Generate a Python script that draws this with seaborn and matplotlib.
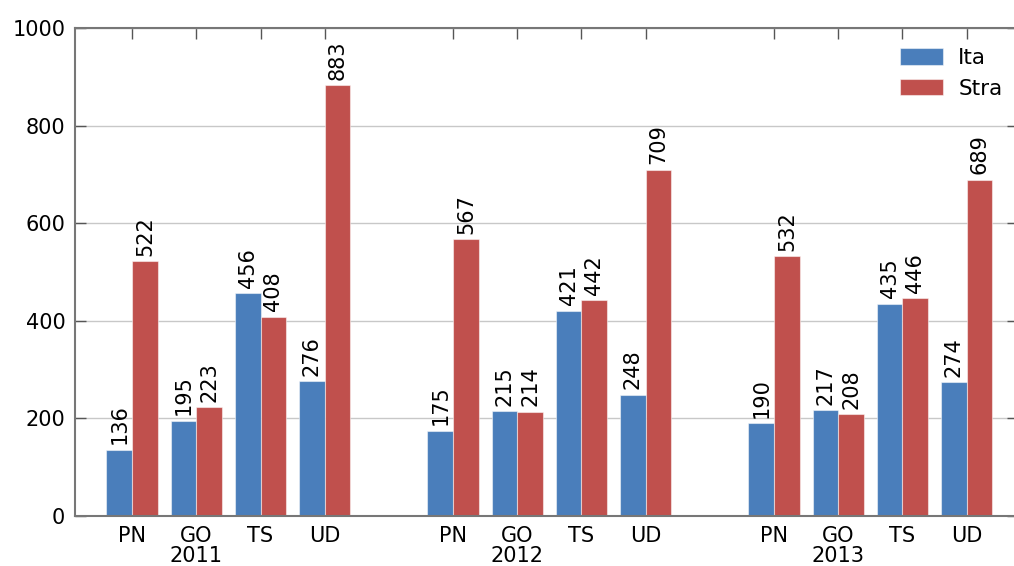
import matplotlib
matplotlib.use("Agg")
import matplotlib.pyplot as plt
import numpy as np
import pandas as pd
import seaborn as sns

years = ["2011", "2012", "2013"]
provinces = ["PN", "GO", "TS", "UD"]
ita = [136, 195, 456, 276,
       175, 215, 421, 248,
       190, 217, 435, 274]
stra = [522, 223, 408, 883,
        567, 214, 442, 709,
        532, 208, 446, 689]

# positions: 4 bars per year, 1 empty slot between years
pos = [g * 5 + i for g in range(len(years)) for i in range(len(provinces))]
tick_labels = []
for y in years:
    for i, p in enumerate(provinces):
        tick_labels.append(p + "\n" + y if i == 1 else p)

df = pd.DataFrame({
    "pos": pos * 2,
    "value": ita + stra,
    "who": ["Ita"] * len(ita) + ["Stra"] * len(stra),
})

sns.set_style("whitegrid")
plt.rcParams["font.family"] = ["DejaVu Sans"]
plt.rcParams["text.color"] = "black"
plt.rcParams["xtick.labelcolor"] = "black"
plt.rcParams["ytick.labelcolor"] = "black"

fig = plt.figure(figsize=(10.14, 5.66), dpi=100)
ax = fig.add_axes([75 / 1014, 1 - 516 / 566, 943 / 1014, 488 / 566])

sns.barplot(data=df, x="pos", y="value", hue="who", native_scale=True,
            palette=["#4A7EBB", "#C0504D"], width=0.8, ax=ax,
            edgecolor=(1, 1, 1, 0.5), linewidth=0.8, saturation=1)

for cont in ax.containers:
    ax.bar_label(cont, rotation=90, padding=4, fontsize=15, color="black")

ax.set_xlim(-0.89, 13.8)
ax.set_ylim(0, 1000)
ax.set_yticks([0, 200, 400, 600, 800, 1000])
ax.set_xticks(pos)
ax.set_xticklabels(tick_labels, fontsize=15, linespacing=1.0)
ax.tick_params(axis="y", labelsize=15, direction="in", length=8, width=1,
               left=True, right=True, color="#555555", pad=7)
ax.tick_params(axis="x", direction="in", length=8, width=1, bottom=False,
               top=True, labelbottom=True, color="#555555", pad=7)
ax.set_xlabel("")
ax.set_ylabel("")

ax.grid(axis="x", visible=False)
ax.grid(axis="y", color="#c8c8c8", linewidth=1)
for s in ax.spines.values():
    s.set_color("#777777")
    s.set_linewidth(1.5)

leg = ax.legend(loc="upper right", bbox_to_anchor=(1.004, 0.999), frameon=False,
                fontsize=15.5, handlelength=2.0, handleheight=0.8,
                handletextpad=0.7, labelspacing=0.5, title=None)

fig.savefig("out.png", dpi=100)
